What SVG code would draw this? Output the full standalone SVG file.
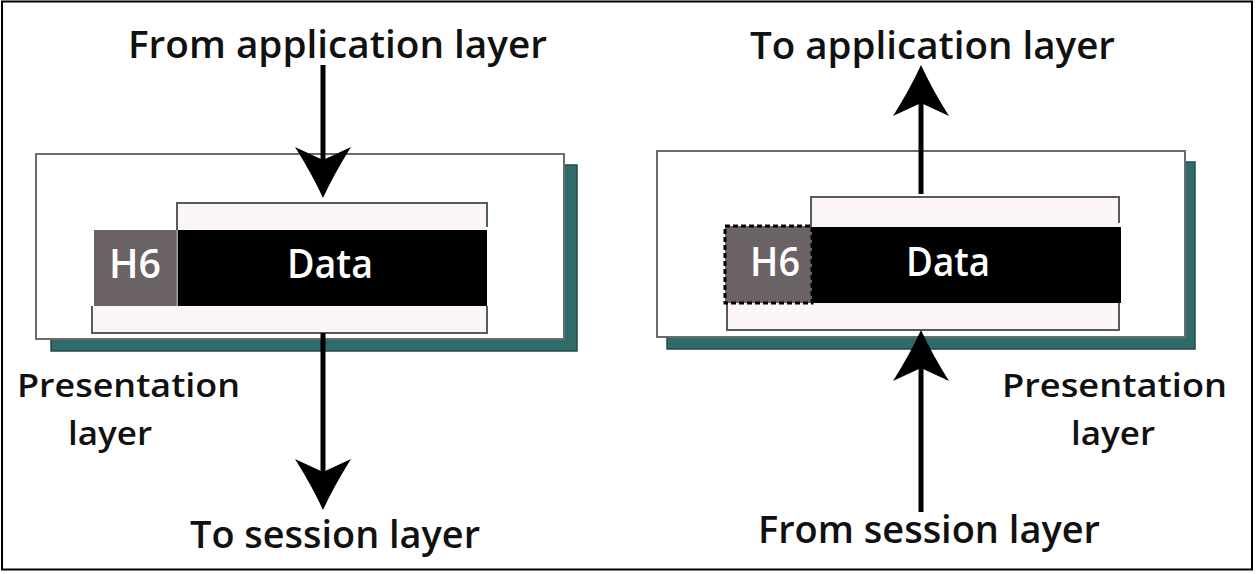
<svg xmlns="http://www.w3.org/2000/svg" width="1256" height="574" viewBox="0 0 1256 574">
<style>
.lbl{font-family:"Open Sans","Liberation Sans",sans-serif;font-weight:600;fill:#111;}
.big{font-size:38px;}
.mid{font-size:32px;}
.inb{font-family:"Open Sans","Liberation Sans",sans-serif;font-weight:600;font-size:40px;fill:#fff;}
.shadow{fill:#2e6b69;stroke:#204c4a;stroke-width:1.5;}
.outer{fill:#fff;stroke:#6b6b6b;stroke-width:2;}
.strip{fill:#fbf5f7;stroke:none;}
.sedge{fill:none;stroke:#5a5a5a;stroke-width:2;}
.hdr{fill:#6a6264;}
.data{fill:#000;}
.conn{stroke:#000;stroke-width:5;fill:none;}
</style>
<defs>
<marker id="ah" markerUnits="userSpaceOnUse" markerWidth="60" markerHeight="60" viewBox="0 -30 52 60" refX="13" refY="0" orient="auto">
<path d="M51,0 Q27,-11 0,-28 L13,0 L0,28 Q27,11 51,0 Z" fill="#000"/>
</marker>
</defs>
<rect x="2" y="1.5" width="1250" height="568" fill="#fff" stroke="#000" stroke-width="2"/>

<g id="left-layer">
<rect class="shadow" x="51" y="165" width="526" height="186"/>
<rect class="outer" x="36" y="154" width="528" height="185"/>
<rect class="strip" x="177" y="203" width="310" height="27"/>
<path class="sedge" d="M177,230 V203 H487 V227"/>
<rect class="strip" x="92" y="306" width="395" height="27"/>
<path class="sedge" d="M92,306 V333 H487 V306"/>
<rect class="hdr" x="94" y="230" width="83" height="76"/>
<line x1="177" y1="230" x2="177" y2="306" stroke="#8a8a8a" stroke-width="1.5"/>
<rect class="data" x="178" y="230" width="309" height="76"/>
<text class="inb" x="109" y="278" textLength="52" lengthAdjust="spacingAndGlyphs">H6</text>
<text class="inb" x="287" y="278" textLength="86" lengthAdjust="spacingAndGlyphs">Data</text>
</g>

<g id="right-layer">
<rect class="shadow" x="667" y="162" width="528" height="187"/>
<rect class="outer" x="657" y="151" width="528" height="186"/>
<rect class="strip" x="811" y="197" width="308" height="30"/>
<path class="sedge" d="M811,227 V197 H1119 V223"/>
<rect class="strip" x="727" y="303" width="392" height="27"/>
<path class="sedge" d="M727,303 V330 H1119 V303"/>
<rect class="data" x="812" y="227" width="309" height="76"/>
<rect class="hdr" x="725" y="226" width="87" height="77" stroke="#000" stroke-width="3" stroke-dasharray="5 3"/>
<text class="inb" x="750" y="276" textLength="50" lengthAdjust="spacingAndGlyphs">H6</text>
<text class="inb" x="906" y="276" textLength="84" lengthAdjust="spacingAndGlyphs">Data</text>
</g>

<g id="connectors">
<line class="conn" x1="323" y1="65" x2="323" y2="160" marker-end="url(#ah)"/>
<line class="conn" x1="323" y1="333" x2="323" y2="472" marker-end="url(#ah)"/>
<line class="conn" x1="921" y1="194" x2="921" y2="103" marker-end="url(#ah)"/>
<line class="conn" x1="921" y1="512" x2="921" y2="368" marker-end="url(#ah)"/>
</g>

<g id="labels">
<text class="lbl big" x="128" y="58" textLength="419" lengthAdjust="spacingAndGlyphs">From application layer</text>
<text class="lbl big" x="750" y="59" textLength="365" lengthAdjust="spacingAndGlyphs">To application layer</text>
<text class="lbl big" x="190" y="548" textLength="290" lengthAdjust="spacingAndGlyphs">To session layer</text>
<text class="lbl big" x="758" y="543" textLength="342" lengthAdjust="spacingAndGlyphs">From session layer</text>
<text class="lbl mid" x="17" y="397" textLength="223" lengthAdjust="spacingAndGlyphs">Presentation</text>
<text class="lbl mid" x="68" y="445" textLength="84" lengthAdjust="spacingAndGlyphs">layer</text>
<text class="lbl mid" x="1002" y="397" textLength="225" lengthAdjust="spacingAndGlyphs">Presentation</text>
<text class="lbl mid" x="1071" y="445" textLength="84" lengthAdjust="spacingAndGlyphs">layer</text>
</g>
</svg>
